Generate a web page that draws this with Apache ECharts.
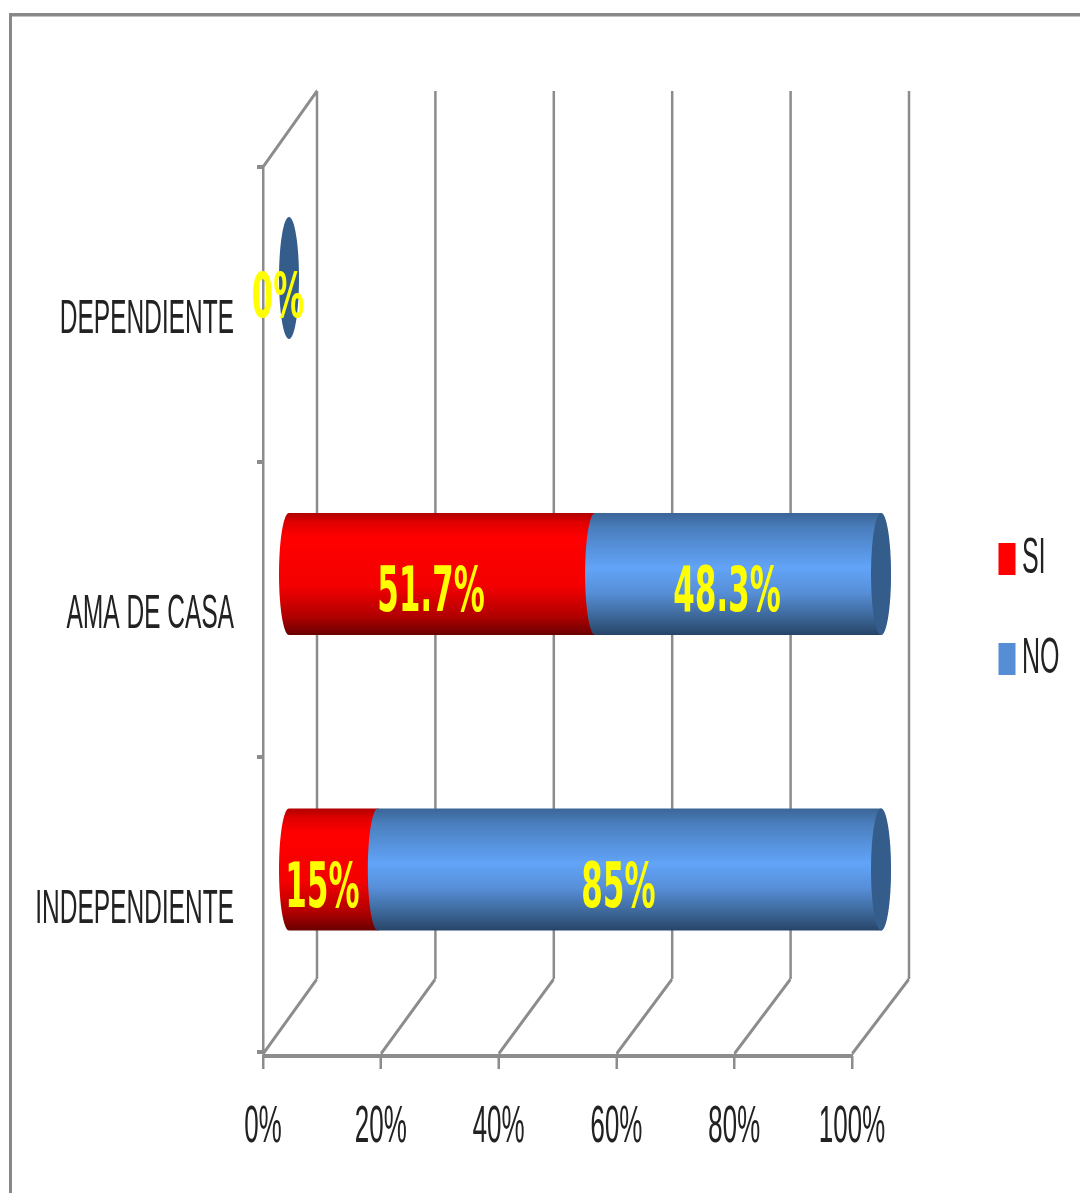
<!DOCTYPE html>
<html>
<head>
<meta charset="utf-8">
<script src="https://cdn.jsdelivr.net/npm/echarts@6/dist/echarts.min.js"></script>
<style>
html,body{margin:0;padding:0;background:#fff;overflow:hidden;width:1080px;height:1193px}
#c{width:2160px;height:1193px;transform:scaleX(0.5);transform-origin:0 0;filter:blur(0.5px)}
</style>
</head>
<body>
<div id="c"></div>
<script>
const categories = ['INDEPENDIENTE', 'AMA DE CASA', 'DEPENDIENTE'];
const siValues = [15, 51.7, 0];
const noValues = [85, 48.3, 0];
const siLabels = ['15%', '51.7%', ''];
const noLabels = ['85%', '48.3%', '0%'];
const xTicks = [0, 20, 40, 60, 80, 100];

const GRAY = '#8c8c8c';
const chart = echarts.init(document.getElementById('c'), null, {renderer: 'canvas'});

const redFill = {type:'linear',x:0,y:0,x2:0,y2:1,colorStops:[
  {offset:0,color:'#b00000'},{offset:0.08,color:'#e00000'},{offset:0.2,color:'#ff0000'},
  {offset:0.6,color:'#f40000'},{offset:0.85,color:'#b00000'},{offset:1,color:'#6a0000'}]};
const blueFill = {type:'linear',x:0,y:0,x2:0,y2:1,colorStops:[
  {offset:0,color:'#3b6596'},{offset:0.12,color:'#4a7ebd'},{offset:0.45,color:'#62a4f8'},
  {offset:0.65,color:'#578fd8'},{offset:0.88,color:'#39618f'},{offset:1,color:'#274468'}]};
const CAP = '#355d8c';

function depth(v, base){ return base + 6 * v / 100; }

function segment(fill, labels, withCap){
  return function(params, api){
    const start = api.value(0), end = api.value(1), idx = api.value(2);
    const p0 = api.coord([start, idx]), p1 = api.coord([end, idx]);
    const h = api.size([0, 1])[1] * 0.207;
    const rx = 20;
    const cy = p0[1] - 35.5 + (idx === 2 ? -1 : idx === 0 ? 0.5 : 0);
    const x0 = p0[0] + depth(start, 52), x1 = p1[0] + depth(end, 52);
    const children = [];
    if (end > start) {
      const pts = [];
      const n = 36;
      for (let i = 0; i <= n; i++) {
        const a = Math.PI / 2 + Math.PI * i / n;
        pts.push([x0 + rx * Math.cos(a), cy - h * Math.sin(a)]);
      }
      for (let i = 0; i <= n; i++) {
        const a = -Math.PI / 2 + Math.PI * i / n;
        pts.push([x1 + rx * Math.cos(a), cy - h * Math.sin(a)]);
      }
      children.push({type:'polygon', shape:{points:pts}, style:{fill:fill}});
    }
    if (withCap) {
      children.push({type:'ellipse', shape:{cx:x1, cy:cy, rx:rx, ry:h}, style:{fill:CAP}});
    }
    const lab = labels[idx];
    if (lab) {
      children.push({type:'text', z2:10, x:(x0 + x1) / 2 - 22, y:cy + (end > start ? 21 : 23),
        style:{text:lab, font:'bold 62px "DejaVu Sans"', fill:'#ffff00', align:'center', verticalAlign:'middle'}});
    }
    return {type:'group', children:children};
  };
}

function walls(params, api){
  const v = api.value(0);
  const f = api.coord([v, 0]);
  const xf = f[0];
  const band = api.size([0, 1])[1];
  const bottom = f[1] + band / 2, top = bottom - band * 3;
  const xb = xf + depth(v, 108);
  const ls = {stroke:GRAY, lineWidth:4, fill:null};
  const vs = {stroke:GRAY, lineWidth:5, fill:null};
  const kids = [
    {type:'line', shape:{x1:xb, y1:bottom - 73, x2:xb, y2:top - 76}, style:vs},
    {type:'line', shape:{x1:xf, y1:bottom + 2, x2:xb, y2:bottom - 73}, style:ls}
  ];
  if (v === 0) kids.push({type:'line', shape:{x1:xf, y1:top, x2:xb, y2:top - 76}, style:ls});
  return {type:'group', children:kids};
}

chart.setOption({
  animation:false,
  backgroundColor:'#fff',
  textStyle:{fontFamily:'"Liberation Sans"'},
  graphic:[
    {type:'rect', z:0, shape:{x:18,y:13,width:2142,height:3.5}, style:{fill:'#888888'}},
    {type:'rect', z:0, shape:{x:18,y:13,width:6,height:1180}, style:{fill:'#888888'}}
  ],
  legend:{
    orient:'vertical', left:1992, top:529, itemWidth:34, itemHeight:32, itemGap:50,
    itemStyle:{borderWidth:0},
    data:[{name:'SI',icon:'rect'},{name:'NO',icon:'rect'}],
    textStyle:{fontSize:50,color:'#222',padding:[0,0,0,8]},
    selectedMode:false
  },
  grid:{left:526, width:1178, top:167, height:885},
  xAxis:{type:'value', min:0, max:100, interval:20, offset:4,
    axisLine:{show:true, lineStyle:{color:GRAY,width:4}},
    axisTick:{show:true, length:13, lineStyle:{color:GRAY,width:5}},
    splitLine:{show:false},
    axisLabel:{formatter:'{value}%', fontSize:52, color:'#222', margin:46}},
  yAxis:{type:'category', data:categories,
    axisLine:{show:true, lineStyle:{color:GRAY,width:5}},
    axisTick:{show:true, length:12, lineStyle:{color:GRAY,width:4}},
    axisLabel:{fontSize:49, color:'#222', margin:58, verticalAlign:'top', lineHeight:10}},
  series:[
    {type:'custom', name:'walls', silent:true, z:1, clip:false, coordinateSystem:'cartesian2d',
     data:xTicks.map(v=>[v]), encode:{x:0}, renderItem:walls},
    {type:'custom', name:'SI', z:3, clip:false, itemStyle:{color:'#ff0000'},
     data:siValues.map((v,i)=>[0,v,i]), encode:{x:[0,1],y:2}, renderItem:segment(redFill,siLabels,false)},
    {type:'custom', name:'NO', z:4, clip:false, itemStyle:{color:'#558ed5'},
     data:noValues.map((v,i)=>[siValues[i]+0, siValues[i]+v, i]), encode:{x:[0,1],y:2}, renderItem:segment(blueFill,noLabels,true)}
  ]
});
</script>
</body>
</html>
